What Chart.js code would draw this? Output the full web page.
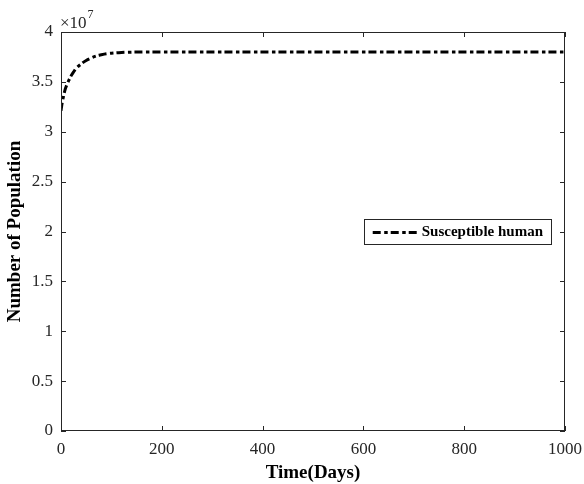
<!DOCTYPE html>
<html>
<head>
<meta charset="utf-8">
<script src="https://cdn.jsdelivr.net/npm/chart.js@4/dist/chart.umd.min.js"></script>
<style>
  html, body { margin: 0; padding: 0; background: #ffffff; }
  #wrap { width: 584px; height: 484px; }
</style>
</head>
<body>
<div id="wrap"><canvas id="c" width="584" height="484"></canvas></div>
<script>
// ---- data ----
const timeDays = [0, 2, 5, 8, 10, 15, 20, 25, 30, 40, 50, 60, 70, 80, 90, 100, 120, 140, 160, 200, 300, 400, 500, 600, 700, 800, 900, 1000];
const susceptibleHuman = [32100000, 32800000, 33550000, 34200000, 34500000, 35100000, 35600000, 36000000, 36350000, 36800000, 37150000, 37400000, 37600000, 37720000, 37820000, 37880000, 37950000, 37980000, 37990000, 38000000, 38000000, 38000000, 38000000, 38000000, 38000000, 38000000, 38000000, 38000000];
const xTicks = [0, 200, 400, 600, 800, 1000];
const yTickLabels = ['0', '0.5', '1', '1.5', '2', '2.5', '3', '3.5', '4'];
const yExponent = '7';
const seriesName = 'Susceptible human';
const xTitle = 'Time(Days)';
const yTitle = 'Number of Population';

const FONT = '"Liberation Serif", "Times New Roman", serif';
const AXIS_COLOR = '#262626';

const points = timeDays.map((t, i) => ({ x: t, y: susceptibleHuman[i] }));

const framePlugin = {
  id: 'frame',
  afterDatasetsDraw(chart) {
    const { ctx, chartArea: a, scales } = chart;
    ctx.save();
    ctx.strokeStyle = AXIS_COLOR;
    ctx.lineWidth = 1;
    // box
    ctx.strokeRect(a.left + 0.5, a.top + 0.5, a.right - a.left - 1, a.bottom - a.top - 1);
    // inward ticks
    const tl = 5;
    ctx.beginPath();
    scales.x.ticks.forEach(t => {
      const px = Math.round(scales.x.getPixelForValue(t.value)) + 0.5;
      ctx.moveTo(px, a.bottom); ctx.lineTo(px, a.bottom - tl);
      ctx.moveTo(px, a.top); ctx.lineTo(px, a.top + tl);
    });
    scales.y.ticks.forEach(t => {
      const py = Math.round(scales.y.getPixelForValue(t.value)) + 0.5;
      ctx.moveTo(a.left, py); ctx.lineTo(a.left + tl, py);
      ctx.moveTo(a.right, py); ctx.lineTo(a.right - tl, py);
    });
    ctx.stroke();

    // exponent label
    ctx.fillStyle = '#262626';
    ctx.textBaseline = 'alphabetic';
    ctx.textAlign = 'left';
    ctx.font = '17px ' + FONT;
    const base = '\u00d710';
    ctx.fillText(base, a.left - 1, 28);
    const w = ctx.measureText(base).width;
    ctx.font = '12px ' + FONT;
    ctx.fillText(yExponent, a.left - 1 + w + 1, 18);

    // legend
    ctx.font = 'bold 15px ' + FONT;
    const tw = ctx.measureText(seriesName).width;
    const sampleLen = 44;
    const boxW = 9 + sampleLen + 5 + tw + 8;
    const boxH = 25;
    const boxRight = a.right - 14;
    const boxLeft = boxRight - boxW;
    const cy = (a.top + a.bottom) / 2;
    const boxTop = Math.round(cy - boxH / 2);
    ctx.fillStyle = '#ffffff';
    ctx.fillRect(boxLeft, boxTop, boxW, boxH);
    ctx.strokeStyle = AXIS_COLOR;
    ctx.lineWidth = 1;
    ctx.strokeRect(Math.round(boxLeft) + 0.5, boxTop + 0.5, Math.round(boxW), boxH);
    const ds = chart.data.datasets[0];
    ctx.strokeStyle = ds.borderColor;
    ctx.lineWidth = ds.borderWidth;
    ctx.setLineDash(ds.borderDash);
    ctx.lineCap = 'butt';
    ctx.beginPath();
    const ly = boxTop + boxH / 2 + 1;
    ctx.moveTo(boxLeft + 9, ly);
    ctx.lineTo(boxLeft + 9 + sampleLen, ly);
    ctx.stroke();
    ctx.setLineDash([]);
    ctx.fillStyle = '#000000';
    ctx.textBaseline = 'middle';
    ctx.fillText(seriesName, boxLeft + 9 + sampleLen + 5, boxTop + boxH / 2 + 1);
    ctx.restore();
  }
};

new Chart(document.getElementById('c'), {
  type: 'line',
  data: {
    datasets: [{
      label: seriesName,
      data: points,
      borderColor: '#000000',
      borderWidth: 3,
      borderDash: [8, 3.5, 3.5, 3],
      pointRadius: 0,
      fill: false,
      cubicInterpolationMode: 'monotone'
    }]
  },
  options: {
    responsive: false,
    animation: false,
    devicePixelRatio: 1,
    layout: { padding: { top: 32, right: 19, left: 0, bottom: 0 } },
    plugins: { legend: { display: false }, tooltip: { enabled: false } },
    scales: {
      x: {
        type: 'linear',
        min: 0, max: 1000,
        afterFit(s) { s.height = 53; s.paddingLeft = 0; s.paddingRight = 0; },
        afterBuildTicks(s) { s.ticks = xTicks.map(v => ({ value: v })); },
        grid: { display: false, drawTicks: false },
        border: { display: false },
        ticks: {
          padding: 8,
          color: '#262626',
          font: { family: FONT, size: 17 },
          maxRotation: 0,
          callback: v => String(v)
        },
        title: {
          display: true,
          text: xTitle,
          color: '#000000',
          font: { family: FONT, size: 19, weight: 'bold' },
          padding: { top: 4, bottom: 0 }
        }
      },
      y: {
        type: 'linear',
        min: 0, max: 40000000,
        afterFit(s) { s.width = 61; s.paddingTop = 0; s.paddingBottom = 0; },
        afterBuildTicks(s) { s.ticks = yTickLabels.map((l, i) => ({ value: i * 5000000 })); },
        grid: { display: false, drawTicks: false },
        border: { display: false },
        ticks: {
          padding: 8,
          color: '#262626',
          font: { family: FONT, size: 17 },
          callback: (v, i) => yTickLabels[i]
        },
        title: {
          display: true,
          text: yTitle,
          color: '#000000',
          font: { family: FONT, size: 19, weight: 'bold' },
          padding: { top: 4, bottom: 0 }
        }
      }
    }
  },
  plugins: [framePlugin]
});
</script>
</body>
</html>
